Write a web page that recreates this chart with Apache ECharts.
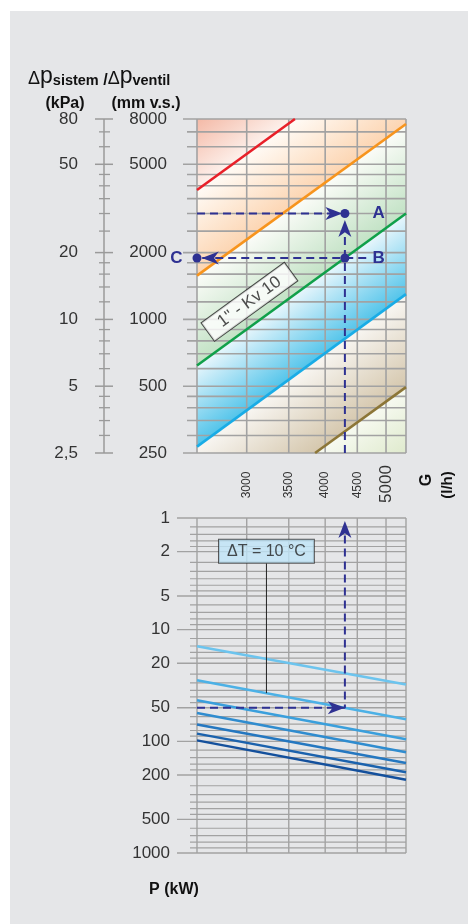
<!DOCTYPE html>
<html><head><meta charset="utf-8">
<script src="https://cdn.jsdelivr.net/npm/echarts@6/dist/echarts.min.js"></script>
<style>html,body{margin:0;padding:0;background:#fff;}#c{width:468px;height:924px;}</style>
</head><body><div id="c"></div>
<script>
// ---------- data ----------
const gRange = [2500, 5380];            // flow G (l/h)
const dpRange = [250, 8000];            // Δp (mm v.s.)
const kpaRange = [2.5, 80];             // Δp (kPa)
const pRange = [1, 1000];               // P (kW)
const gGrid = [2500, 3000, 3500, 4000, 4500, 5000, 5380];
const gTicks = [3000, 3500, 4000, 4500];
const gTickBig = [5000];
const mmMajor = [8000, 5000, 2000, 1000, 500, 250];
const mmMinor = [7000, 6000, 4500, 4000, 3500, 3000, 2500, 1800, 1600, 1400, 1200, 900, 800, 700, 600, 450, 400, 350, 300];
const kpaMajor = [80, 50, 20, 10, 5, 2.5];
const kpaLabels = ['80', '50', '20', '10', '5', '2,5'];
const kpaMinor = [70, 60, 45, 40, 35, 30, 25, 18, 16, 14, 12, 9, 8, 7, 6, 4.5, 4, 3.5, 3];
const pMajor = [1, 2, 5, 10, 20, 50, 100, 200, 500, 1000];
const pMinor = [1.2, 1.4, 1.6, 1.8, 2.5, 3, 3.5, 4, 4.5, 6, 7, 8, 9, 12, 14, 16, 18, 25, 30, 35, 40, 45, 60, 70, 80, 90,
                120, 140, 160, 180, 250, 300, 350, 400, 450, 600, 700, 800, 900];

// Kv lines (G start/end, Δp start/end)
const kvG  = [[2500, 3580], [2500, 5380], [2500, 5380], [2500, 5380], [3855, 5380]];
const kvDp = [[3830, 8000], [1575, 7590], [620, 3000], [267, 1300], [250, 495]];
const kvColors = ['#e82029', '#f7941d', '#10a04a', '#19ace6', '#8c7637'];

// ΔT lines in the P chart
const dT = [5, 10, 15, 20, 25, 30, 35];
const pAtGmin = [14.1, 28.4, 42.9, 55.7, 70.8, 85.3, 98];
const pAtGmax = [31, 63.5, 96, 125, 156, 189, 221];
const dTColors = ['#6cc4ee', '#4cb1e6', '#3a9fdc', '#2f8ccf', '#2477c0', '#1b62ad', '#14509c'];

// worked example
const exG = 4300, exDpA = 3000, exDpB = 1890, exP = 50;
const exBEnd = 4650;
const arrowsTop = [[4130, 3000, -90], [4300, 2570, 0], [2625, 1890, 90]];
const arrowsBot = [[4167, 50, -90], [4300, 1.27, 0]];
const kvBox = [3030, 1200];
const dtBox = [3225, 1.98];
const dtLeader = [[3225, 2.55], [3225, 37]];

// ---------- chart ----------
const FONT = '"Liberation Sans", Arial, Helvetica, sans-serif';
const NAVY = '#2e3192';
const GRID = '#a2a2a2';
const TXT = '#333';
const ARROW = 'path://M0,0 L10,18 L0,13 L-10,18 Z';
const chart = echarts.init(document.getElementById('c'));

function ln(x1, y1, x2, y2, c, w) {
  return {type: 'line', shape: {x1, y1, x2, y2}, style: {stroke: c || GRID, lineWidth: w || 1.6}};
}
function tx(x, y, t, size, align, rot, weight) {
  return {type: 'text', x, y, rotation: rot || 0,
    style: {text: t, fill: TXT, font: (weight || 'normal') + ' ' + size + 'px ' + FONT,
      align: align, textAlign: align, verticalAlign: 'middle', textVerticalAlign: 'middle'}};
}

const L = kvG.map((g, i) => [[g[0], kvDp[i][0]], [g[1], kvDp[i][1]]]);
const TL = [gRange[0], dpRange[1]], TR = [gRange[1], dpRange[1]];
const BL = [gRange[0], dpRange[0]], BR = [gRange[1], dpRange[0]];
const bandPolys = [
  [TL, L[0][1], L[0][0]],
  [L[0][0], L[0][1], TR, L[1][1], L[1][0]],
  [L[1][0], L[1][1], L[2][1], L[2][0]],
  [L[2][0], L[2][1], L[3][1], L[3][0]],
  [L[3][0], L[3][1], L[4][1], L[4][0], BL],
  [L[4][0], L[4][1], BR]
];
const bandFrom = [TL, L[0][0], L[1][0], L[2][0], L[3][0], L[4][0]];
const bandTo = [L[0][0], L[1][0], L[2][0], L[3][0], L[4][0], BR];
const bandColors = [
  ['#f4b9a6', '#fdf1ec'],
  ['#fffbf6', '#fcd5b2'],
  ['#fbfcf8', '#c2e2c5'],
  ['#e8f6fc', '#52c4ea'],
  ['#f8f6f2', '#d5c7ad'],
  ['#f7faf1', '#dfeacd']
];

const option = {
  animation: false,
  backgroundColor: 'transparent',
  graphic: [
    {type: 'rect', z: -10, shape: {x: 10, y: 11, width: 458, height: 913}, style: {fill: '#e5e6e8'}},
    {type: 'text', x: 28, y: 77, style: {
      text: '{d|Δ}{p|p}{s|sistem}{sl| /}{d|Δ}{p|p}{s|ventil}', verticalAlign: 'middle',
      rich: {
        d: {fontSize: 18, fontFamily: FONT, fill: '#111', color: '#111', verticalAlign: 'bottom'},
        p: {fontSize: 23, fontFamily: FONT, fill: '#111', color: '#111', verticalAlign: 'bottom'},
        s: {fontSize: 14.5, fontWeight: 'bold', fontFamily: FONT, fill: '#111', color: '#111', verticalAlign: 'bottom'},
        sl: {fontSize: 16, fontWeight: 'bold', fontFamily: FONT, fill: '#111', color: '#111', verticalAlign: 'bottom'}
      }}},
    {type: 'text', x: 65, y: 104, style: {text: '(kPa)', font: 'bold 16px ' + FONT, fill: '#111', align: 'center', verticalAlign: 'middle'}},
    {type: 'text', x: 146, y: 104, style: {text: '(mm v.s.)', font: 'bold 16px ' + FONT, fill: '#111', align: 'center', verticalAlign: 'middle'}},
    {type: 'text', x: 427, y: 480, rotation: Math.PI / 2, style: {text: 'G', font: 'bold 16px ' + FONT, fill: '#111', align: 'center', verticalAlign: 'middle'}},
    {type: 'text', x: 448, y: 485, rotation: Math.PI / 2, style: {text: '(l/h)', font: 'bold 15px ' + FONT, fill: '#111', align: 'center', verticalAlign: 'middle'}},
    {type: 'text', x: 174, y: 890, style: {text: 'P (kW)', font: 'bold 16px ' + FONT, fill: '#111', align: 'center', verticalAlign: 'middle'}}
  ],
  grid: [
    {left: 197, top: 119, width: 209, height: 334, outerBoundsMode: 'none'},
    {left: 197, top: 518, width: 209, height: 335, outerBoundsMode: 'none'}
  ],
  xAxis: [
    {type: 'log', gridIndex: 0, min: gRange[0], max: gRange[1], show: false},
    {type: 'log', gridIndex: 1, min: gRange[0], max: gRange[1], show: false}
  ],
  yAxis: [
    {type: 'log', gridIndex: 0, min: dpRange[0], max: dpRange[1], show: false},
    {type: 'log', gridIndex: 1, min: pRange[0], max: pRange[1], inverse: true, show: false},
    {type: 'log', gridIndex: 0, min: kpaRange[0], max: kpaRange[1], show: false}
  ],
  series: []
};

// colored bands
option.series.push({
  type: 'custom', xAxisIndex: 0, yAxisIndex: 0, z: 1, clip: false, silent: true,
  data: [[gRange[0], dpRange[0]]],
  renderItem(params, api) {
    const p0 = api.coord(L[2][0]), p1 = api.coord(L[2][1]);
    let dx = p1[0] - p0[0], dy = p1[1] - p0[1];
    const len = Math.hypot(dx, dy); dx /= len; dy /= len;
    const n = [-dy, dx];
    const ch = bandPolys.map((poly, i) => {
      const s = api.coord(bandFrom[i]), e = api.coord(bandTo[i]);
      const d = (e[0] - s[0]) * n[0] + (e[1] - s[1]) * n[1];
      return {type: 'polygon', shape: {points: poly.map(p => api.coord(p))},
        style: {fill: {type: 'linear', global: true, x: s[0], y: s[1], x2: s[0] + n[0] * d, y2: s[1] + n[1] * d,
          colorStops: [{offset: 0, color: bandColors[i][0]}, {offset: 1, color: bandColors[i][1]}]}}};
    });
    return {type: 'group', children: ch};
  }
});

// top grid + mm labels + G labels
option.series.push({
  type: 'custom', xAxisIndex: 0, yAxisIndex: 0, z: 2, clip: false, silent: true,
  data: [[gRange[0], dpRange[0]]],
  renderItem(params, api) {
    const ch = [];
    const left = api.coord([gRange[0], dpRange[0]])[0], right = api.coord([gRange[1], dpRange[0]])[0];
    const bot = api.coord([gRange[0], dpRange[0]])[1], top = api.coord([gRange[0], dpRange[1]])[1];
    mmMinor.forEach(v => { const y = api.coord([gRange[0], v])[1]; ch.push(ln(left - 10, y, right, y)); });
    mmMajor.forEach(v => { const y = api.coord([gRange[0], v])[1]; ch.push(ln(left - 14, y, right, y));
      ch.push(tx(left - 30, y, String(v), 17, 'right')); });
    gGrid.forEach(g => { const x = api.coord([g, dpRange[0]])[0]; ch.push(ln(x, top, x, bot)); });
    gTicks.forEach(g => { const x = api.coord([g, dpRange[0]])[0]; ch.push(tx(x, bot + 32, String(g), 12, 'center', Math.PI / 2)); });
    gTickBig.forEach(g => { const x = api.coord([g, dpRange[0]])[0]; ch.push(tx(x, bot + 31, String(g), 17, 'center', Math.PI / 2)); });
    return {type: 'group', children: ch};
  }
});

// kPa scale
option.series.push({
  type: 'custom', xAxisIndex: 0, yAxisIndex: 2, z: 2, clip: false, silent: true,
  data: [[gRange[0], kpaRange[0]]],
  renderItem(params, api) {
    const ch = [];
    const ax = api.coord([gRange[0], kpaRange[0]])[0] - 93;
    const yT = api.coord([gRange[0], kpaRange[1]])[1], yB = api.coord([gRange[0], kpaRange[0]])[1];
    const c = '#9a9a9a';
    ch.push(ln(ax, yT, ax, yB, c, 1.5));
    kpaMinor.forEach(v => { const y = api.coord([gRange[0], v])[1]; ch.push(ln(ax - 5, y, ax + 6, y, c, 1.3)); });
    kpaMajor.forEach((v, i) => { const y = api.coord([gRange[0], v])[1]; ch.push(ln(ax - 9, y, ax + 9, y, c, 1.5));
      ch.push(tx(ax - 26, y, kpaLabels[i], 17, 'right')); });
    return {type: 'group', children: ch};
  }
});

// Kv lines
L.forEach((pts, i) => option.series.push({
  type: 'line', xAxisIndex: 0, yAxisIndex: 0, z: 3, data: pts, symbol: 'none', silent: true,
  lineStyle: {color: kvColors[i], width: 2.6}
}));

// bottom grid + P labels
option.series.push({
  type: 'custom', xAxisIndex: 1, yAxisIndex: 1, z: 2, clip: false, silent: true,
  data: [[gRange[0], pRange[0]]],
  renderItem(params, api) {
    const ch = [];
    const left = api.coord([gRange[0], 1])[0], right = api.coord([gRange[1], 1])[0];
    const top = api.coord([gRange[0], pRange[0]])[1], bot = api.coord([gRange[0], pRange[1]])[1];
    pMinor.forEach(v => { const y = api.coord([gRange[0], v])[1]; ch.push(ln(left - 7, y, right, y, GRID, 1.2)); });
    pMajor.forEach(v => { const y = api.coord([gRange[0], v])[1]; ch.push(ln(left - 20, y, right, y, GRID, 1.4));
      ch.push(tx(left - 27, y, String(v), 17, 'right')); });
    gGrid.forEach(g => { const x = api.coord([g, 1])[0]; ch.push(ln(x, top, x, bot, GRID, 1.4)); });
    return {type: 'group', children: ch};
  }
});

// ΔT lines
dT.forEach((t, i) => option.series.push({
  type: 'line', xAxisIndex: 1, yAxisIndex: 1, z: 3, symbol: 'none', silent: true,
  data: [[gRange[0], pAtGmin[i]], [gRange[1], pAtGmax[i]]],
  lineStyle: {color: dTColors[i], width: 2.5}
}));

// example dashed paths
const dash = {color: NAVY, width: 2, type: [8, 5]};
[
  [0, [[exG, dpRange[0]], [exG, arrowsTop[1][1]]]],
  [0, [[gRange[0], exDpA], [arrowsTop[0][0], exDpA]]],
  [0, [[exBEnd, exDpB], [gRange[0], exDpB]]],
  [1, [[gRange[0], exP], [exG, exP], [exG, arrowsBot[1][1]]]]
].forEach(([gi, pts]) => option.series.push({
  type: 'line', xAxisIndex: gi, yAxisIndex: gi, z: 5, symbol: 'none', silent: true, data: pts, lineStyle: dash
}));

// arrowheads
option.series.push({
  type: 'scatter', xAxisIndex: 0, yAxisIndex: 0, z: 6, silent: true, symbol: ARROW, symbolSize: [13, 17],
  symbolKeepAspect: false, itemStyle: {color: NAVY, opacity: 1},
  data: arrowsTop.map(a => ({value: [a[0], a[1]], symbolRotate: a[2]}))
});
option.series.push({
  type: 'scatter', xAxisIndex: 1, yAxisIndex: 1, z: 6, silent: true, symbol: ARROW, symbolSize: [13, 17],
  symbolKeepAspect: false, itemStyle: {color: NAVY, opacity: 1},
  data: arrowsBot.map(a => ({value: [a[0], a[1]], symbolRotate: a[2]}))
});

// points A, B, C
const ptLabel = {show: true, color: NAVY, fontFamily: FONT, fontWeight: 'bold', fontSize: 17};
option.series.push({
  type: 'scatter', xAxisIndex: 0, yAxisIndex: 0, z: 7, silent: true, symbol: 'circle', symbolSize: 9,
  itemStyle: {color: NAVY, opacity: 1},
  data: [
    {value: [exG, exDpA], label: Object.assign({}, ptLabel, {formatter: 'A', position: 'right', distance: 23})},
    {value: [exG, exDpB], label: Object.assign({}, ptLabel, {formatter: 'B', position: 'right', distance: 23})},
    {value: [gRange[0], exDpB], label: Object.assign({}, ptLabel, {formatter: 'C', position: 'left', distance: 10})}
  ]
});

// Kv box
option.series.push({
  type: 'scatter', xAxisIndex: 0, yAxisIndex: 0, z: 8, silent: true, symbolSize: 0,
  data: [{value: kvBox}],
  label: {show: true, position: 'inside', rotate: 36, formatter: '1" - Kv 10', color: '#222',
    fontFamily: FONT, fontSize: 17, backgroundColor: '#fff', borderColor: '#222', borderWidth: 1, padding: [3, 14, 2, 14]}
});

// ΔT callout
option.series.push({
  type: 'line', xAxisIndex: 1, yAxisIndex: 1, z: 4, symbol: 'none', silent: true, data: dtLeader,
  lineStyle: {color: '#222', width: 1}
});
option.series.push({
  type: 'scatter', xAxisIndex: 1, yAxisIndex: 1, z: 8, silent: true, symbolSize: 0,
  data: [{value: dtBox}],
  label: {show: true, position: 'inside', formatter: 'ΔT = 10 °C', color: '#222',
    fontFamily: FONT, fontSize: 16, backgroundColor: '#bfe5f7', borderColor: '#333', borderWidth: 1, padding: [4, 8, 3, 8]}
});

chart.setOption(option);
</script></body></html>
